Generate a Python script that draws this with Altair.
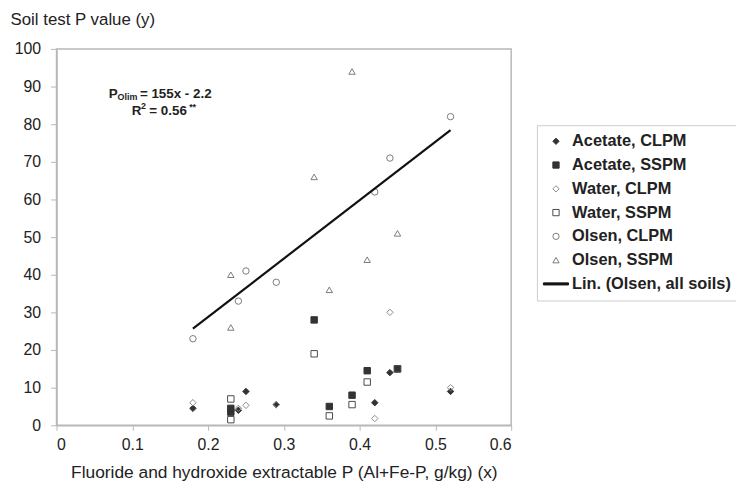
import altair as alt
import pandas as pd

# ---- data ----
series_names = ["Acetate, CLPM", "Acetate, SSPM", "Water, CLPM", "Water, SSPM",
                "Olsen, CLPM", "Olsen, SSPM", "Lin. (Olsen, all soils)"]

clpm_x = [0.18, 0.24, 0.25, 0.29, 0.42, 0.44, 0.52]
sspm_x = [0.23, 0.23, 0.34, 0.36, 0.39, 0.41, 0.45]

acetate_clpm = [4.5, 4.0, 9.0, 5.5, 6.0, 14.0, 9.0]
acetate_sspm = [3.5, 4.5, 28.0, 5.0, 8.0, 14.5, 15.0]
water_clpm = [6.0, 4.5, 5.3, 5.5, 1.8, 30.0, 10.0]
water_sspm = [7.0, 1.5, 19.0, 2.5, 5.5, 11.5, 15.0]
olsen_clpm = [23.0, 33.0, 41.0, 38.0, 62.0, 71.0, 82.0]
olsen_sspm = [26.0, 40.0, 66.0, 36.0, 94.0, 44.0, 51.0]

fit_x = [0.18, 0.52]
fit_y = [25.7, 78.4]

x_ticks = [0, 0.1, 0.2, 0.3, 0.4, 0.5, 0.6]
y_ticks = [0, 10, 20, 30, 40, 50, 60, 70, 80, 90, 100]

# ---- build tables ----
rows = []
for name, xs, ys in [
    ("Acetate, CLPM", clpm_x, acetate_clpm),
    ("Acetate, SSPM", sspm_x, acetate_sspm),
    ("Water, CLPM", clpm_x, water_clpm),
    ("Water, SSPM", sspm_x, water_sspm),
    ("Olsen, CLPM", clpm_x, olsen_clpm),
    ("Olsen, SSPM", sspm_x, olsen_sspm),
]:
    for xv, yv in zip(xs, ys):
        rows.append({"series": name, "x": xv, "y": yv})
pts = pd.DataFrame(rows)
fit = pd.DataFrame({"x": fit_x, "y": fit_y})

shapes = ["diamond", "square", "diamond", "square", "circle", "triangle-up",
          "M-4,-0.33H4V0.33H-4Z"]
fills = ["#333333", "#333333", "transparent", "transparent", "transparent",
         "transparent", "#111111"]
strokes = ["#333333", "#333333", "#8a8a8a", "#4a4a4a", "#7a7a7a", "#7a7a7a",
           "#111111"]

FONT = "Liberation Sans"

xscale = alt.Scale(domain=[0, 0.6], nice=False, zero=False)
yscale = alt.Scale(domain=[0, 100], nice=False)

xaxis = alt.Axis(values=x_ticks, format="~g", grid=False, tickSize=5,
                 labelPadding=6, titlePadding=12, domainColor="#b8b8b8",
                 tickColor="#b8b8b8", domainWidth=1.5, labelOverlap=False,
                 titleFontSize=17.5,
                 title="Fluoride and hydroxide extractable P (Al+Fe-P, g/kg) (x)")
yaxis = alt.Axis(values=y_ticks, grid=False, tickSize=6, labelPadding=10,
                 domainColor="#b8b8b8", tickColor="#b8b8b8", domainWidth=1.5,
                 labelOverlap=False, tickCount=11,
                 title="Soil test P value (y)", titleAngle=0, titleAlign="left",
                 titleBaseline="middle", titleX=-47, titleY=-30)

X = alt.X("x:Q", scale=xscale, axis=xaxis)
Y = alt.Y("y:Q", scale=yscale, axis=yaxis)

points = alt.Chart(pts).mark_point(filled=True, size=42, strokeWidth=1,
                                    opacity=1).encode(
    x=X, y=Y,
    shape=alt.Shape("series:N", scale=alt.Scale(domain=series_names, range=shapes),
                    legend=alt.Legend(title=None)),
    fill=alt.Fill("series:N", scale=alt.Scale(domain=series_names, range=fills),
                  legend=alt.Legend(title=None)),
    stroke=alt.Stroke("series:N", scale=alt.Scale(domain=series_names, range=strokes),
                      legend=alt.Legend(title=None)),
)

line = alt.Chart(fit).mark_line(color="#111111", strokeWidth=2.2).encode(x=X, y=Y)

# equation annotation pieces (data units)
ann = pd.DataFrame([
    {"t": "P", "x": 0.069, "y": 88.0},
    {"t": "= 155x - 2.2", "x": 0.110, "y": 88.0},
    {"t": "R", "x": 0.0993, "y": 83.6},
    {"t": "= 0.56", "x": 0.1225, "y": 83.6},
])
ann_small = pd.DataFrame([
    {"t": "Olim", "x": 0.0805, "y": 87.1},
    {"t": "2", "x": 0.1115, "y": 84.9},
    {"t": "**", "x": 0.175, "y": 84.5},
])
txt = alt.Chart(ann).mark_text(align="left", baseline="middle", fontWeight="bold",
                               font=FONT, fontSize=13.5, color="#222222").encode(
    x=X, y=Y, text="t:N")
txt_small = alt.Chart(ann_small).mark_text(align="left", baseline="middle",
                                           fontWeight="bold", font=FONT,
                                           fontSize=9, color="#222222").encode(
    x=X, y=Y, text="t:N")

chart = alt.layer(points, line, txt, txt_small).properties(
    width=459, height=380,
    autosize=alt.AutoSizeParams(type="none"),
    padding={"left": 49, "top": 39, "right": 227, "bottom": 62},
).configure_view(
    stroke="#b8b8b8", strokeWidth=1.5
).configure_axis(
    labelFont=FONT, titleFont=FONT, labelFontSize=16, titleFontSize=17,
    labelColor="#222222", titleColor="#222222", titleFontWeight="normal",
).configure_legend(
    orient="none", legendX=485, legendY=77,
    labelFont=FONT, labelFontSize=16.5, labelFontWeight="bold", labelColor="#222222",
    labelLimit=0, symbolSize=40, symbolStrokeWidth=1, rowPadding=7,
    padding=8, symbolOffset=3, labelOffset=8, strokeColor="#cccccc",
    fillColor="white",
)

chart.save("out.html", embed_options={"renderer": "svg", "actions": False})
